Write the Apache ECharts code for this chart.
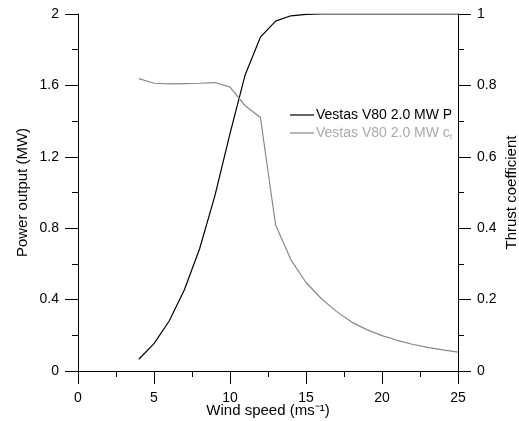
<!DOCTYPE html>
<html>
<head>
<meta charset="utf-8">
<script src="https://cdn.jsdelivr.net/npm/echarts@6/dist/echarts.min.js"></script>
<style>
  html, body { margin: 0; padding: 0; background: #fff; }
  #main { width: 519px; height: 421px; }
</style>
</head>
<body>
<div id="main"></div>
<script>
// wind speed (m/s)
var windSpeed = [4, 5, 6, 7, 8, 9, 10, 11, 12, 13, 14, 15, 16, 17, 18, 19, 20, 21, 22, 23, 24, 25];
// power output (MW)
var power = [0.066, 0.153, 0.28, 0.455, 0.685, 0.98, 1.33, 1.66, 1.87, 1.96, 1.99, 1.998, 2, 2, 2, 2, 2, 2, 2, 2, 2, 2];
// thrust coefficient
var thrust = [0.819, 0.806, 0.804, 0.805, 0.806, 0.808, 0.795, 0.743, 0.71, 0.409, 0.312, 0.248, 0.203, 0.167, 0.137, 0.116, 0.099, 0.086, 0.075, 0.066, 0.059, 0.053];

var pairs = function (xs, ys) {
    return xs.map(function (x, i) { return [x, ys[i]]; });
};

var font = 'Liberation Sans';
var myChart = echarts.init(document.getElementById('main'));

var axisCommon = {
    axisLine: { show: true, lineStyle: { color: '#000', width: 1 } },
    axisTick: { show: true, inside: false, length: 13, lineStyle: { color: '#000' } },
    minorTick: { show: true, splitNumber: 2, length: 6, lineStyle: { color: '#000' } },
    splitLine: { show: false },
    axisLabel: { color: '#000', fontFamily: font, fontSize: 14, margin: 19 },
    nameTextStyle: { color: '#000', fontFamily: font, fontSize: 15 },
    nameMoveOverlap: false
};

var option = {
    animation: false,
    grid: { left: 78, right: 61, top: 14, bottom: 50, containLabel: false, outerBoundsMode: 'none' },
    legend: {
        orient: 'vertical',
        left: 285,
        top: 103,
        icon: 'rect',
        itemWidth: 24,
        itemHeight: 1.2,
        itemGap: 4,
        data: [
            { name: 'P', textStyle: { color: '#000' } },
            { name: 'ct', textStyle: { color: '#aaa' } }
        ],
        formatter: function (name) {
            if (name === 'P') return 'Vestas V80 2.0 MW P';
            return '{a|Vestas V80 2.0 MW c}{s|t}';
        },
        textStyle: {
            fontFamily: font,
            fontSize: 14,
            padding: [0, 0, 0, -3],
            rich: {
                a: { fontFamily: font, fontSize: 14, color: '#aaa' },
                s: { fontFamily: font, fontSize: 8, color: '#aaa', padding: [7, 0, 0, 0] }
            }
        }
    },
    xAxis: Object.assign({}, axisCommon, {
        type: 'value',
        min: 0,
        max: 25,
        interval: 5,
        name: 'Wind speed (ms\u207B\u00B9)',
        nameLocation: 'middle',
        nameGap: 32,
        axisLabel: Object.assign({}, axisCommon.axisLabel, { margin: 20 })
    }),
    yAxis: [
        Object.assign({}, axisCommon, {
            type: 'value',
            min: 0,
            max: 2,
            interval: 0.4,
            name: 'Power output (MW)',
            nameLocation: 'middle',
            nameRotate: 90,
            nameGap: 48
        }),
        Object.assign({}, axisCommon, {
            type: 'value',
            position: 'right',
            min: 0,
            max: 1,
            interval: 0.2,
            name: 'Thrust coefficient',
            nameLocation: 'middle',
            nameRotate: 90,
            nameGap: 46
        })
    ],
    series: [
        {
            name: 'P',
            type: 'line',
            yAxisIndex: 0,
            data: pairs(windSpeed, power),
            symbol: 'none',
            lineStyle: { color: '#000', width: 1.2 },
            itemStyle: { color: '#000' }
        },
        {
            name: 'ct',
            type: 'line',
            yAxisIndex: 1,
            data: pairs(windSpeed, thrust),
            symbol: 'none',
            lineStyle: { color: '#888', width: 1.2 },
            itemStyle: { color: '#888' }
        }
    ]
};

myChart.setOption(option);
</script>
</body>
</html>
